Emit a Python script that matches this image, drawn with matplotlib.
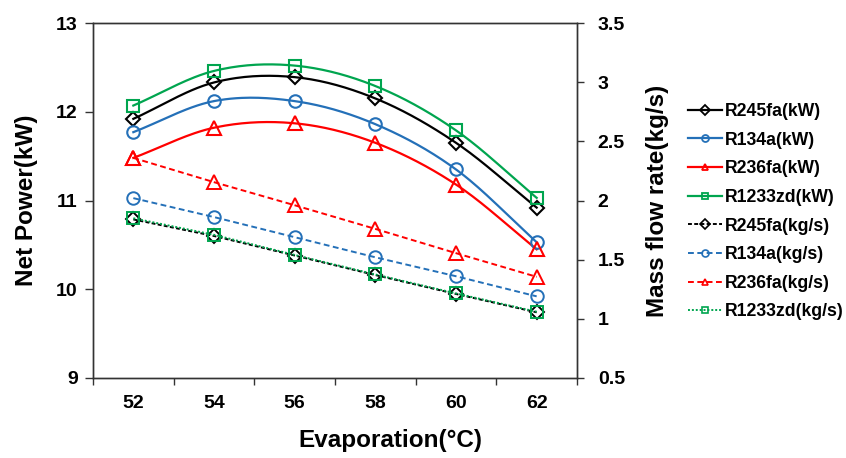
"""Net power and mass flow rate vs evaporation temperature, dual y axis."""

import matplotlib
matplotlib.use("Agg")
import matplotlib.pyplot as plt
import numpy as np
from matplotlib.lines import Line2D

plt.rcParams["font.family"] = ["Liberation Sans", "DejaVu Sans"]
plt.rcParams["font.weight"] = "bold"

# data
temps = [52, 54, 56, 58, 60, 62]

r245fa_kw = [11.92, 12.33, 12.39, 12.15, 11.65, 10.92]
r134a_kw = [11.77, 12.12, 12.12, 11.86, 11.35, 10.53]
r236fa_kw = [11.48, 11.82, 11.87, 11.65, 11.18, 10.45]
r1233zd_kw = [12.07, 12.46, 12.52, 12.29, 11.79, 11.03]

r245fa_kgs = [1.84, 1.70, 1.535, 1.37, 1.21, 1.055]
r134a_kgs = [2.02, 1.86, 1.69, 1.52, 1.36, 1.19]
r236fa_kgs = [2.36, 2.155, 1.96, 1.76, 1.555, 1.355]
r1233zd_kgs = [1.85, 1.71, 1.54, 1.375, 1.215, 1.06]

left_ticks = [9, 10, 11, 12, 13]
right_ticks = [0.5, 1, 1.5, 2, 2.5, 3, 3.5]
right_labels = ["0.5", "1", "1.5", "2", "2.5", "3", "3.5"]

BLACK = "#000000"
BLUE = "#2470B8"
RED = "#FF0000"
GREEN = "#00A54F"


def smooth(xs, ys, n=30):
    """Catmull-Rom curve through the points (like Excel's smoothed line)."""
    x = np.asarray(xs, float)
    y = np.asarray(ys, float)
    px = np.concatenate([[2 * x[0] - x[1]], x, [2 * x[-1] - x[-2]]])
    py = np.concatenate([[2 * y[0] - y[1]], y, [2 * y[-1] - y[-2]]])
    out_x, out_y = [], []
    t = np.linspace(0, 1, n)
    for i in range(1, len(px) - 2):
        for arr, out in ((px, out_x), (py, out_y)):
            p0, p1, p2, p3 = arr[i - 1], arr[i], arr[i + 1], arr[i + 2]
            seg = 0.5 * ((2 * p1) + (-p0 + p2) * t
                         + (2 * p0 - 5 * p1 + 4 * p2 - p3) * t ** 2
                         + (-p0 + 3 * p1 - 3 * p2 + p3) * t ** 3)
            out.extend(seg)
    return out_x, out_y


fig = plt.figure(figsize=(8.46, 4.58), dpi=100)
ax = fig.add_axes([93 / 846, 1 - 378 / 458, 484 / 846, 355 / 458])
ax2 = ax.twinx()

kw_series = [
    ("R245fa(kW)", r245fa_kw, BLACK, "D", 7),
    ("R134a(kW)", r134a_kw, BLUE, "o", 9),
    ("R236fa(kW)", r236fa_kw, RED, "^", 10),
    ("R1233zd(kW)", r1233zd_kw, GREEN, "s", 9),
]
kgs_series = [
    ("R245fa(kg/s)", r245fa_kgs, BLACK, "D", 7, (2, 1.2)),
    ("R134a(kg/s)", r134a_kgs, BLUE, "o", 9, (3, 1.8)),
    ("R236fa(kg/s)", r236fa_kgs, RED, "^", 10, (3, 1.8)),
    ("R1233zd(kg/s)", r1233zd_kgs, GREEN, "s", 8, (1, 1)),
]

handles = []
for label, vals, color, marker, ms in kw_series:
    sx, sy = smooth(temps, vals)
    ax.plot(sx, sy, color=color, linewidth=1.6, zorder=3)
    ax.plot(temps, vals, linestyle="none", marker=marker, markersize=ms,
            markerfacecolor="none", markeredgecolor=color,
            markeredgewidth=1.5, zorder=4)
    handles.append(Line2D([], [], color=color, linewidth=1.6, marker=marker,
                          markersize=5, markerfacecolor="none",
                          markeredgewidth=1.3, label=label))

for label, vals, color, marker, ms, dash in kgs_series:
    ax2.plot(temps, vals, color=color, linewidth=1.4, dashes=dash,
             marker=marker, markersize=ms, markerfacecolor="none",
             markeredgecolor=color, markeredgewidth=1.4, zorder=3)
    handles.append(Line2D([], [], color=color, linewidth=1.4, dashes=dash,
                          marker=marker, markersize=5, markerfacecolor="none",
                          markeredgewidth=1.2, label=label))

ax.set_xlim(51, 63)
ax.set_ylim(9, 13)
ax2.set_ylim(0.5, 3.5)

ax.set_xticks(temps)
ax.set_xticks(np.arange(51, 64, 2), minor=True)
ax.tick_params(axis="x", which="major", length=0, pad=12, labelsize=14)
ax.tick_params(axis="x", which="minor", length=5, direction="out",
               width=1, color="#333333")
ax.set_yticks(left_ticks)
ax.tick_params(axis="y", length=6, direction="out", width=1,
               color="#333333", pad=5, labelsize=14)
ax2.set_yticks(right_ticks)
ax2.set_yticklabels(right_labels)
ax2.tick_params(axis="y", length=5, direction="out", width=1,
                color="#333333", pad=10, labelsize=14)

for a in (ax, ax2):
    for s in a.spines.values():
        s.set_color("#333333")
        s.set_linewidth(1)

ax.set_ylabel("Net Power(kW)", fontsize=17.5, fontweight="bold",
              labelpad=13)
ax2.set_ylabel("Mass flow rate(kg/s)", fontsize=17.5, fontweight="bold",
               labelpad=15)
fig.text(390 / 846, 1 - 440 / 458, "Evaporation(°C)", ha="center",
         va="center", fontsize=17.5, fontweight="bold")

fig.legend(handles=handles, loc="upper left",
           bbox_to_anchor=(688 / 846, 1 - 103 / 458), frameon=False,
           fontsize=12.7, handlelength=1.9, handletextpad=0.2,
           labelspacing=0.66, borderaxespad=0, borderpad=0)

fig.savefig("out.png", dpi=100, facecolor="white")
